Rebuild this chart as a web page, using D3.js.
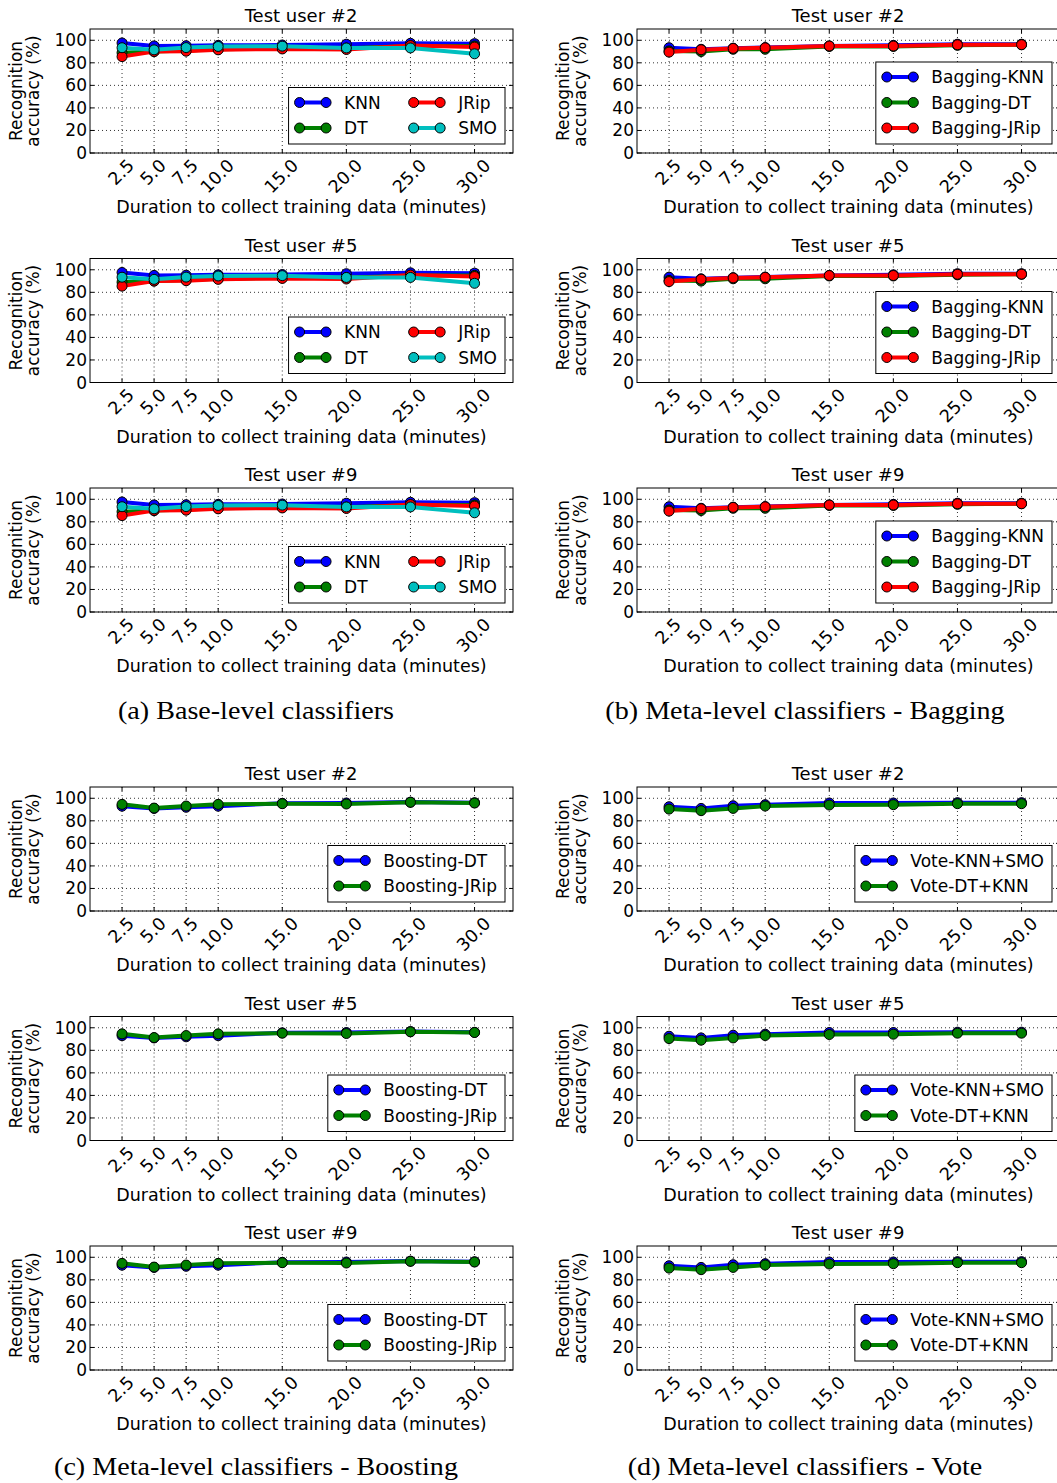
<!DOCTYPE html>
<html>
<head>
<meta charset="utf-8">
<script src="https://cdn.jsdelivr.net/npm/d3@7"></script>
<style>
  body { margin: 0; background: #fff; }
  svg { display: block; }
</style>
</head>
<body>
<div id="chart"></div>
<script>
// x axis: minutes spent collecting training data
const minutes = [2.5, 5, 7.5, 10, 15, 20, 25, 30];
const minuteLabels = ["2.5", "5.0", "7.5", "10.0", "15.0", "20.0", "25.0", "30.0"];
const yTicks = [0, 20, 40, 60, 80, 100];
const users = ["Test user #2", "Test user #5", "Test user #9"];

// (a) base-level classifiers
const baseNames = ["KNN", "DT", "JRip", "SMO"];
const baseKNN  = [97.6, 95.0, 95.2, 95.5, 95.8, 96.5, 97.3, 97.0];
const baseDT   = [89.0, 90.0, 91.0, 92.0, 93.0, 93.0, 95.0, 95.0];
const baseJRip = [85.5, 90.0, 90.3, 91.5, 92.3, 91.8, 95.3, 94.0];
const baseSMO  = [93.4, 91.5, 93.5, 94.5, 94.8, 93.2, 93.2, 88.0];

// (b) bagging
const bagNames = ["Bagging-KNN", "Bagging-DT", "Bagging-JRip"];
const bagKNN  = [93.4, 92.0, 93.0, 93.5, 95.0, 95.5, 96.5, 96.5];
const bagDT   = [90.5, 90.0, 92.0, 92.0, 94.5, 94.5, 95.5, 96.0];
const bagJRip = [89.5, 91.6, 92.8, 93.3, 94.9, 94.9, 96.0, 96.1];

// (c) boosting
const boostNames = ["Boosting-DT", "Boosting-JRip"];
const boostDT   = [93.0, 91.0, 92.0, 93.0, 95.5, 95.8, 96.6, 96.0];
const boostJRip = [94.6, 91.3, 93.1, 94.6, 95.2, 94.9, 96.4, 95.8];

// (d) vote
const voteNames = ["Vote-KNN+SMO", "Vote-DT+KNN"];
const voteKNNSMO = [92.5, 91.0, 93.4, 94.3, 95.8, 95.8, 96.1, 96.1];
const voteDTKNN  = [90.4, 89.0, 91.0, 93.1, 94.0, 94.3, 95.2, 95.2];

const captions = [
  "(a) Base-level classifiers",
  "(b) Meta-level classifiers - Bagging",
  "(c) Meta-level classifiers - Boosting",
  "(d) Meta-level classifiers - Vote"
];

const W = 1057, H = 1483;
const FONT = "DejaVu Sans";

const svg = d3.select("#chart").append("svg")
    .attr("width", W)
    .attr("height", H)
    .style("font-family", FONT);

// groups of panels, built from the arrays above
const groups = [
  { col: 0, top: 29,  names: baseNames,  series: [baseKNN, baseDT, baseJRip, baseSMO], colors: ["#0000ff", "#008000", "#ff0000", "#00bfbf"], ncol: 2 },
  { col: 1, top: 29,  names: bagNames,   series: [bagKNN, bagDT, bagJRip], colors: ["#0000ff", "#008000", "#ff0000"], ncol: 1 },
  { col: 0, top: 787, names: boostNames, series: [boostDT, boostJRip], colors: ["#0000ff", "#008000"], ncol: 1 },
  { col: 1, top: 787, names: voteNames,  series: [voteKNNSMO, voteDTKNN], colors: ["#0000ff", "#008000"], ncol: 1 }
];

const colLeft = [90, 637];
const plotW = 423, plotH = 124, rowStep = 229.5;

const x = d3.scaleLinear().domain([0, 33]).range([0, plotW]);
const y = d3.scaleLinear().domain([0, 110]).range([plotH, 0]);

const line = d3.line()
    .x((d, i) => x(minutes[i]))
    .y(d => y(d));

function measure(txt, size) {
    const t = svg.append("text").style("font-size", size + "px").text(txt);
    const w = t.node().getComputedTextLength();
    t.remove();
    return w;
}

function drawPanel(grp, userIdx) {
    const left = colLeft[grp.col];
    const top = grp.top + userIdx * rowStep;
    const g = svg.append("g").attr("transform", `translate(${left},${top})`);

    // grid
    g.selectAll(".gx").data(minutes).join("line")
        .attr("x1", d => x(d)).attr("x2", d => x(d))
        .attr("y1", 0).attr("y2", plotH)
        .attr("stroke", "#000").attr("stroke-width", 0.8)
        .attr("stroke-dasharray", "1,3");
    g.selectAll(".gy").data(yTicks).join("line")
        .attr("x1", 0).attr("x2", plotW)
        .attr("y1", d => y(d)).attr("y2", d => y(d))
        .attr("stroke", "#000").attr("stroke-width", 0.8)
        .attr("stroke-dasharray", "1,3");

    // series lines + markers
    grp.series.forEach((vals, s) => {
        g.append("path")
            .datum(vals)
            .attr("d", line)
            .attr("fill", "none")
            .attr("stroke", grp.colors[s])
            .attr("stroke-width", 4)
            .attr("stroke-linejoin", "round");
        g.selectAll(null).data(vals).join("circle")
            .attr("cx", (d, i) => x(minutes[i]))
            .attr("cy", d => y(d))
            .attr("r", 5)
            .attr("fill", grp.colors[s])
            .attr("stroke", "#000")
            .attr("stroke-width", 1);
    });

    // inward ticks on all four sides
    const tl = 4;
    minutes.forEach(m => {
        g.append("line").attr("x1", x(m)).attr("x2", x(m)).attr("y1", plotH).attr("y2", plotH - tl).attr("stroke", "#000");
        g.append("line").attr("x1", x(m)).attr("x2", x(m)).attr("y1", 0).attr("y2", tl).attr("stroke", "#000");
    });
    yTicks.forEach(v => {
        g.append("line").attr("x1", 0).attr("x2", tl).attr("y1", y(v)).attr("y2", y(v)).attr("stroke", "#000");
        g.append("line").attr("x1", plotW).attr("x2", plotW - tl).attr("y1", y(v)).attr("y2", y(v)).attr("stroke", "#000");
    });

    // frame
    g.append("rect")
        .attr("width", plotW).attr("height", plotH)
        .attr("fill", "none").attr("stroke", "#000").attr("stroke-width", 1);

    // y tick labels
    g.selectAll(".yl").data(yTicks).join("text")
        .attr("x", -3).attr("y", d => y(d))
        .attr("text-anchor", "end")
        .attr("dominant-baseline", "central")
        .style("font-size", "17px")
        .text(d => d);

    // rotated x tick labels, centred under each tick
    g.selectAll(".xl").data(minutes).join("text")
        .attr("text-anchor", "middle")
        .attr("dominant-baseline", "central")
        .style("font-size", "17.5px")
        .text((d, i) => minuteLabels[i])
        .each(function (d) {
            const w = this.getComputedTextLength();
            const off = 5 + (w + 12.4) * 0.3536;
            d3.select(this).attr("transform", `translate(${x(d) - 1},${plotH + off}) rotate(-45)`);
        });

    // axis labels and title
    g.append("text")
        .attr("x", plotW / 2).attr("y", plotH + 60)
        .attr("text-anchor", "middle")
        .style("font-size", "17.5px")
        .text("Duration to collect training data (minutes)");

    const yl = g.append("text")
        .attr("transform", `translate(-68,${plotH / 2}) rotate(-90)`)
        .attr("text-anchor", "middle")
        .style("font-size", "17px");
    yl.append("tspan").attr("x", 0).attr("dy", 0).text("Recognition");
    yl.append("tspan").attr("x", 0).attr("dy", 17).text("accuracy (%)");

    g.append("text")
        .attr("x", 211).attr("y", -7)
        .attr("text-anchor", "middle")
        .style("font-size", "18px")
        .text(users[userIdx]);

    drawLegend(g, grp);
}

function drawLegend(g, grp) {
    const fs = 17;
    const nrow = Math.ceil(grp.names.length / grp.ncol);
    const cols = d3.range(grp.ncol).map(c => grp.names.map((n, i) => i).filter(i => Math.floor(i / nrow) === c));
    const handle = 26.5, lead = 11, gap = 18, colSpace = 22;
    let cx = 0;
    const colStart = [];
    cols.forEach((idx, c) => {
        colStart.push(cx);
        const maxW = d3.max(idx, i => measure(grp.names[i], fs));
        cx += lead + handle + gap + maxW + (c < cols.length - 1 ? colSpace : 0);
    });
    const boxW = cx + 8;
    const rowH = 25.5;
    const boxH = 15 + (nrow - 1) * rowH + 16;
    const bx = plotW - 8 - boxW;
    const by = plotH - 9 - boxH;

    const lg = g.append("g").attr("transform", `translate(${bx},${by})`);
    lg.append("rect")
        .attr("width", boxW).attr("height", boxH)
        .attr("fill", "#fff").attr("stroke", "#000").attr("stroke-width", 1);

    grp.names.forEach((name, i) => {
        const c = Math.floor(i / nrow), r = i % nrow;
        const x0 = colStart[c] + lead;
        const yy = 15 + r * rowH;
        lg.append("line")
            .attr("x1", x0).attr("x2", x0 + handle)
            .attr("y1", yy).attr("y2", yy)
            .attr("stroke", grp.colors[i]).attr("stroke-width", 4);
        [x0, x0 + handle].forEach(mx => {
            lg.append("circle")
                .attr("cx", mx).attr("cy", yy).attr("r", 5)
                .attr("fill", grp.colors[i]).attr("stroke", "#000").attr("stroke-width", 1);
        });
        lg.append("text")
            .attr("x", x0 + handle + gap).attr("y", yy)
            .attr("dominant-baseline", "central")
            .style("font-size", fs + "px")
            .text(name);
    });
}

groups.forEach(grp => users.forEach((u, k) => drawPanel(grp, k)));

// sub-figure captions (serif, widened a little to match the LaTeX typesetting)
const capX = [256, 805];
const capY = [719, 1475];
captions.forEach((c, i) => {
    const t = svg.append("text")
        .attr("x", capX[i % 2])
        .attr("y", capY[Math.floor(i / 2)])
        .attr("text-anchor", "middle")
        .style("font-family", "Liberation Serif")
        .style("font-size", "26px")
        .text(c);
    const w = t.node().getComputedTextLength();
    t.attr("textLength", w * 1.08).attr("lengthAdjust", "spacingAndGlyphs");
});
</script>
</body>
</html>
